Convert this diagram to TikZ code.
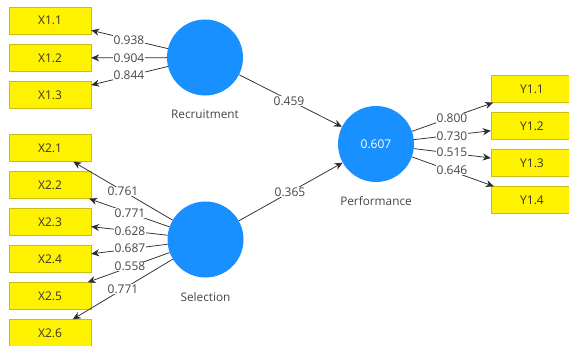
\documentclass[tikz,border=0pt]{standalone}
\usepackage{fontspec}
\setmainfont{Open Sans}
\usetikzlibrary{arrows.meta}
\definecolor{lvblue}{RGB}{24,144,255}
\definecolor{boxborder}{RGB}{200,190,20}
\definecolor{boxtext}{RGB}{55,55,35}
\definecolor{lbltext}{RGB}{70,70,70}
\definecolor{linecol}{RGB}{45,45,45}
\tikzset{
  ind/.style={draw=boxborder, fill=yellow, minimum width=82pt, minimum height=27pt, inner sep=0pt, font=\fontsize{12}{13}\selectfont, text=boxtext},
  lv/.style={circle, fill=lvblue, minimum size=76pt, inner sep=0pt, text=white, font=\fontsize{12}{13}\selectfont},
  lvname/.style={font=\fontsize{11.8}{13}\selectfont, text=lbltext},
  conn/.style={draw=linecol, line width=0.75pt, -{Stealth[length=8pt,width=7pt]}},
  lbl/.style={fill=white, inner sep=0.5pt, font=\fontsize{12}{13}\selectfont, text=lbltext}
}
\begin{document}
\begin{tikzpicture}[x=1pt,y=-1pt]
\clip (0,0) rectangle (569,345);
\fill[white] (0,0) rectangle (569,345);
% latent variables
\node[lv] (rec) at (205,57.5) {};
\node[lv] (sel) at (205.5,239.5) {};
\node[lv] (perf) at (376,144) {0.607};
\node[lvname] (recname) at (205,114) {Recruitment};
\node[lvname] (selname) at (205.5,297) {Selection};
\node[lvname] (perfname) at (376,201.5) {Performance};
% indicators
\node[ind] (x11) at (50,20.5) {X1.1};
\node[ind] (x12) at (50,58) {X1.2};
\node[ind] (x13) at (50,95) {X1.3};
\node[ind] (x21) at (50,148) {X2.1};
\node[ind] (x22) at (50,185) {X2.2};
\node[ind] (x23) at (50,222) {X2.3};
\node[ind] (x24) at (50,259) {X2.4};
\node[ind] (x25) at (50,296) {X2.5};
\node[ind] (x26) at (50,333) {X2.6};
\node[ind] (y11) at (532,89) {Y1.1};
\node[ind] (y12) at (532,126) {Y1.2};
\node[ind] (y13) at (532,163) {Y1.3};
\node[ind] (y14) at (532,200) {Y1.4};
% connectors
\draw[conn] (rec) -- (x11);
\draw[conn] (rec) -- (x12);
\draw[conn] (rec) -- (x13);
\draw[conn] (sel) -- (x21);
\draw[conn] (sel) -- (x22);
\draw[conn] (sel) -- (x23);
\draw[conn] (sel) -- (x24);
\draw[conn] (sel) -- (x25);
\draw[conn] (sel) -- (x26);
\draw[conn] (rec) -- (perf);
\draw[conn] (sel) -- (perf);
\draw[conn] (perf) -- (y11);
\draw[conn] (perf) -- (y12);
\draw[conn] (perf) -- (y13);
\draw[conn] (perf) -- (y14);
% labels
\node[lbl] (l11) at (129,40) {0.938};
\node[lbl] (l12) at (129,58) {0.904};
\node[lbl] (l13) at (129,75.5) {0.844};
\node[lbl] (l21) at (123,191.5) {0.761};
\node[lbl] (l22) at (130,213) {0.771};
\node[lbl] (l23) at (130,231.5) {0.628};
\node[lbl] (l24) at (130,248) {0.687};
\node[lbl] (l25) at (130,266.5) {0.558};
\node[lbl] (l26) at (123,289) {0.771};
\node[lbl] (lrp) at (289,101) {0.459};
\node[lbl] (lsp) at (290,192) {0.365};
\node[lbl] (ly1) at (452,118) {0.800};
\node[lbl] (ly2) at (452,136) {0.730};
\node[lbl] (ly3) at (452,152.5) {0.515};
\node[lbl] (ly4) at (452,170) {0.646};
\end{tikzpicture}
\end{document}
